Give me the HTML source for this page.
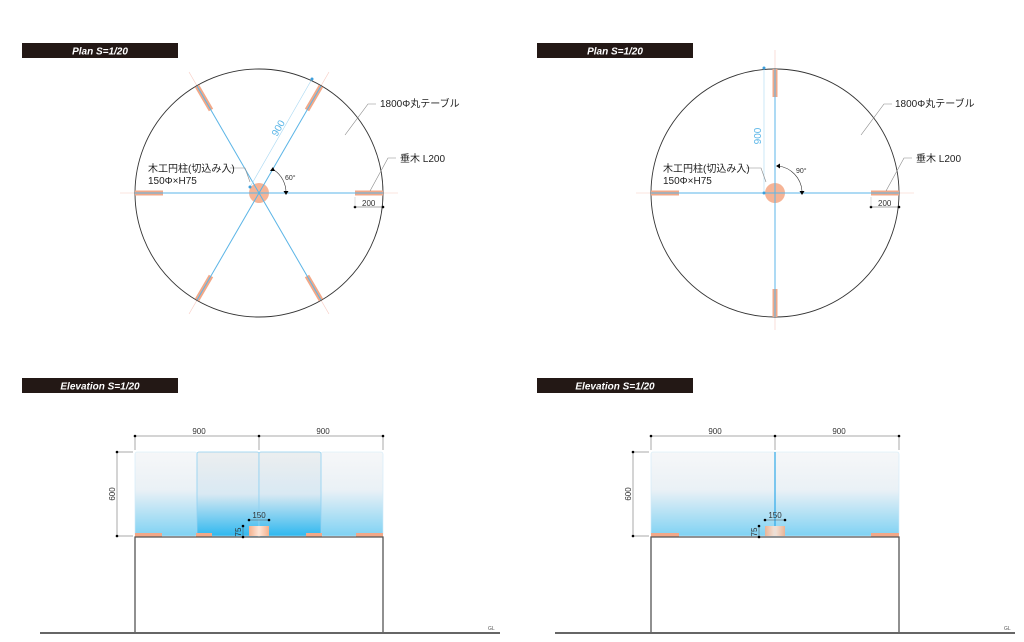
<!DOCTYPE html>
<html><head><meta charset="utf-8"><style>
html,body{margin:0;padding:0;background:#fff;}
svg{display:block;}
text{font-family:"Liberation Sans","Noto Sans CJK JP",sans-serif;}
</style></head><body>
<svg width="1024" height="642" viewBox="0 0 1024 642" xmlns="http://www.w3.org/2000/svg">
<defs>
<linearGradient id="gl" x1="0" y1="0" x2="0" y2="1">
<stop offset="0" stop-color="#f6f7f8"/><stop offset="0.45" stop-color="#eaf1f6"/><stop offset="1" stop-color="#7fd2f3"/></linearGradient>
<linearGradient id="gd" x1="0" y1="0" x2="0" y2="1">
<stop offset="0" stop-color="#eceeef"/><stop offset="0.5" stop-color="#d9e9f3"/><stop offset="1" stop-color="#2fb8ef"/></linearGradient>
<linearGradient id="pil" x1="0" y1="0" x2="1" y2="0">
<stop offset="0" stop-color="#f4b08c"/><stop offset="0.5" stop-color="#fde6d8"/><stop offset="1" stop-color="#f4b08c"/></linearGradient>
</defs>
<g font-size="10" font-weight="bold" font-style="italic" fill="#fff" text-anchor="middle">
<rect x="22" y="43" width="156" height="15" fill="#231815"/><text x="100" y="54.5">Plan S=1/20</text>
<rect x="537" y="43" width="156" height="15" fill="#231815"/><text x="615" y="54.5">Plan S=1/20</text>
<rect x="22" y="378" width="156" height="15" fill="#231815"/><text x="100" y="389.5">Elevation S=1/20</text>
<rect x="537" y="378" width="156" height="15" fill="#231815"/><text x="615" y="389.5">Elevation S=1/20</text>
</g>

<g>
<g stroke="#f7c9c0" stroke-width="0.6">
<line x1="120" y1="193" x2="398" y2="193"/>
<line x1="189" y1="72" x2="329" y2="314"/>
<line x1="329" y1="72" x2="189" y2="314"/>
</g>
<circle cx="259" cy="193" r="124" fill="none" stroke="#333" stroke-width="0.9"/>
<g stroke="#f2a888" stroke-width="5" stroke-linecap="butt">
<line x1="135" y1="193" x2="163" y2="193"/><line x1="355" y1="193" x2="383" y2="193"/>
<line x1="197" y1="86" x2="211" y2="110"/><line x1="321" y1="86" x2="307" y2="110"/>
<line x1="197" y1="300" x2="211" y2="276"/><line x1="321" y1="300" x2="307" y2="276"/>
</g>
<circle cx="259" cy="193" r="10" fill="#f6b496"/>
<g stroke="#5bb6e8" stroke-width="1">
<line x1="135" y1="193" x2="383" y2="193"/>
<line x1="197" y1="86" x2="321" y2="300"/>
<line x1="321" y1="86" x2="197" y2="300"/>
</g>
<line x1="250" y1="187" x2="312" y2="79" stroke="#a9d8f2" stroke-width="0.6"/>
<circle cx="250" cy="187" r="1.5" fill="#3d9fdc"/><circle cx="312" cy="79" r="1.5" fill="#3d9fdc"/>
<text x="0" y="0" font-size="10" fill="#5bb6e8" transform="translate(277,137) rotate(-60)">900</text>
<path d="M274 170 A27 27 0 0 1 286 193" fill="none" stroke="#333" stroke-width="0.6"/>
<path d="M273 167 l-3 4 l5 0z M286 195 l-2.5 -4 l5 0z" fill="#000"/>
<text x="285" y="180" font-size="7" fill="#333">60°</text>
<line x1="355" y1="207" x2="383" y2="207" stroke="#555" stroke-width="0.5"/>
<circle cx="355" cy="207" r="1.3" fill="#000"/><circle cx="383" cy="207" r="1.3" fill="#000"/>
<line x1="355" y1="197" x2="355" y2="207" stroke="#aaa" stroke-width="0.4"/>
<text x="362" y="206" font-size="8" fill="#333">200</text>
<g stroke="#888" stroke-width="0.6" fill="none">
<polyline points="345,135 368,104 376,104"/>
<polyline points="370,191 388,158 396,158"/>
<polyline points="230,168 245,168 250,182"/>
</g>
<text x="380" y="107" font-size="10" fill="#222">1800Φ丸テーブル</text>
<text x="400" y="162" font-size="10" fill="#222">垂木 L200</text>
<text x="148" y="172" font-size="10" fill="#222">木工円柱(切込み入)</text>
<text x="148" y="184" font-size="10" fill="#222">150Φ×H75</text>
</g>

<g>
<g stroke="#f7c9c0" stroke-width="0.6">
<line x1="636" y1="193" x2="914" y2="193"/>
<line x1="775" y1="50" x2="775" y2="330"/>
</g>
<circle cx="775" cy="193" r="124" fill="none" stroke="#333" stroke-width="0.9"/>
<g stroke="#f2a888" stroke-width="5">
<line x1="651" y1="193" x2="679" y2="193"/><line x1="871" y1="193" x2="899" y2="193"/>
<line x1="775" y1="69" x2="775" y2="97"/><line x1="775" y1="289" x2="775" y2="317"/>
</g>
<circle cx="775" cy="193" r="10" fill="#f6b496"/>
<g stroke="#5bb6e8" stroke-width="1">
<line x1="651" y1="193" x2="899" y2="193"/>
<line x1="775" y1="69" x2="775" y2="317"/>
</g>
<line x1="764" y1="68" x2="764" y2="193" stroke="#a9d8f2" stroke-width="0.6"/>
<circle cx="764" cy="68" r="1.5" fill="#3d9fdc"/><circle cx="764" cy="193" r="1.5" fill="#3d9fdc"/>
<text x="0" y="0" font-size="10" fill="#5bb6e8" text-anchor="middle" transform="translate(761,136) rotate(-90)">900</text>
<path d="M778 166 A27 27 0 0 1 802 191" fill="none" stroke="#333" stroke-width="0.6"/>
<path d="M776 166 l4 -2.5 l0 5z M802 195 l-2.5 -4 l5 0z" fill="#000"/>
<text x="796" y="173" font-size="7" fill="#333">90°</text>
<line x1="871" y1="207" x2="899" y2="207" stroke="#555" stroke-width="0.5"/>
<circle cx="871" cy="207" r="1.3" fill="#000"/><circle cx="899" cy="207" r="1.3" fill="#000"/>
<line x1="871" y1="197" x2="871" y2="207" stroke="#aaa" stroke-width="0.4"/>
<text x="878" y="206" font-size="8" fill="#333">200</text>
<g stroke="#888" stroke-width="0.6" fill="none">
<polyline points="861,135 884,104 892,104"/>
<polyline points="886,191 904,158 912,158"/>
<polyline points="746,168 761,168 766,182"/>
</g>
<text x="895" y="107" font-size="10" fill="#222">1800Φ丸テーブル</text>
<text x="916" y="162" font-size="10" fill="#222">垂木 L200</text>
<text x="663" y="172" font-size="10" fill="#222">木工円柱(切込み入)</text>
<text x="663" y="184" font-size="10" fill="#222">150Φ×H75</text>
</g>

<g>
<rect x="135" y="452" width="62" height="84" rx="2" fill="url(#gl)" stroke="#cfeaf8" stroke-width="0.6"/>
<rect x="321" y="452" width="62" height="84" rx="2" fill="url(#gl)" stroke="#cfeaf8" stroke-width="0.6"/>
<rect x="197" y="452" width="62" height="84" rx="2" fill="url(#gd)" stroke="#8fd0f0" stroke-width="0.8"/>
<rect x="259" y="452" width="62" height="84" rx="2" fill="url(#gd)" stroke="#8fd0f0" stroke-width="0.8"/>
<rect x="249" y="526" width="20" height="10" fill="url(#pil)"/>
<g fill="#f2a888">
<rect x="135" y="533" width="27" height="4"/><rect x="196" y="533" width="16" height="4"/>
<rect x="306" y="533" width="16" height="4"/><rect x="356" y="533" width="27" height="4"/>
</g>
<polyline points="135,632 135,537 383,537 383,632" stroke="#555" stroke-width="1.3" fill="none"/>
<g stroke="#555" stroke-width="0.5">
<line x1="135" y1="436" x2="383" y2="436"/>
<line x1="135" y1="436" x2="135" y2="450"/><line x1="259" y1="436" x2="259" y2="450"/><line x1="383" y1="436" x2="383" y2="450"/>
<line x1="117" y1="452" x2="117" y2="536"/><line x1="117" y1="452" x2="133" y2="452"/><line x1="117" y1="536" x2="133" y2="536"/>
<line x1="249" y1="520" x2="269" y2="520"/><line x1="243" y1="526" x2="243" y2="537"/>
</g>
<g fill="#000">
<circle cx="135" cy="436" r="1.3"/><circle cx="259" cy="436" r="1.3"/><circle cx="383" cy="436" r="1.3"/>
<circle cx="117" cy="452" r="1.3"/><circle cx="117" cy="536" r="1.3"/>
<circle cx="249" cy="520" r="1.3"/><circle cx="269" cy="520" r="1.3"/>
<circle cx="243" cy="526" r="1.3"/><circle cx="243" cy="537" r="1.3"/>
</g>
<text x="199" y="434" font-size="8" fill="#333" text-anchor="middle">900</text>
<text x="323" y="434" font-size="8" fill="#333" text-anchor="middle">900</text>
<text x="0" y="0" font-size="8" fill="#333" text-anchor="middle" transform="translate(115,494) rotate(-90)">600</text>
<text x="259" y="518" font-size="8" fill="#333" text-anchor="middle">150</text>
<text x="0" y="0" font-size="8" fill="#333" text-anchor="middle" transform="translate(241,532) rotate(-90)">75</text>
</g>

<g>
<rect x="651" y="452" width="248" height="84" rx="2" fill="url(#gl)" stroke="#cfeaf8" stroke-width="0.6"/>
<line x1="775" y1="452" x2="775" y2="536" stroke="#2fa9e8" stroke-width="1.2"/>
<rect x="765" y="526" width="20" height="10" fill="url(#pil)" opacity="0.9"/>
<g fill="#f2a888">
<rect x="651" y="533" width="28" height="4"/><rect x="871" y="533" width="28" height="4"/>
</g>
<polyline points="651,632 651,537 899,537 899,632" stroke="#555" stroke-width="1.3" fill="none"/>
<g stroke="#555" stroke-width="0.5">
<line x1="651" y1="436" x2="899" y2="436"/>
<line x1="651" y1="436" x2="651" y2="450"/><line x1="775" y1="436" x2="775" y2="450"/><line x1="899" y1="436" x2="899" y2="450"/>
<line x1="633" y1="452" x2="633" y2="536"/><line x1="633" y1="452" x2="649" y2="452"/><line x1="633" y1="536" x2="649" y2="536"/>
<line x1="765" y1="520" x2="785" y2="520"/><line x1="759" y1="526" x2="759" y2="537"/>
</g>
<g fill="#000">
<circle cx="651" cy="436" r="1.3"/><circle cx="775" cy="436" r="1.3"/><circle cx="899" cy="436" r="1.3"/>
<circle cx="633" cy="452" r="1.3"/><circle cx="633" cy="536" r="1.3"/>
<circle cx="765" cy="520" r="1.3"/><circle cx="785" cy="520" r="1.3"/>
<circle cx="759" cy="526" r="1.3"/><circle cx="759" cy="537" r="1.3"/>
</g>
<text x="715" y="434" font-size="8" fill="#333" text-anchor="middle">900</text>
<text x="839" y="434" font-size="8" fill="#333" text-anchor="middle">900</text>
<text x="0" y="0" font-size="8" fill="#333" text-anchor="middle" transform="translate(631,494) rotate(-90)">600</text>
<text x="775" y="518" font-size="8" fill="#333" text-anchor="middle">150</text>
<text x="0" y="0" font-size="8" fill="#333" text-anchor="middle" transform="translate(757,532) rotate(-90)">75</text>
</g>

<line x1="40" y1="633" x2="500" y2="633" stroke="#333" stroke-width="1.4"/>
<line x1="555" y1="633" x2="1015" y2="633" stroke="#333" stroke-width="1.4"/>
<text x="488" y="630" font-size="5" fill="#555">GL</text>
<text x="1004" y="630" font-size="5" fill="#555">GL</text>
</svg>
</body></html>
